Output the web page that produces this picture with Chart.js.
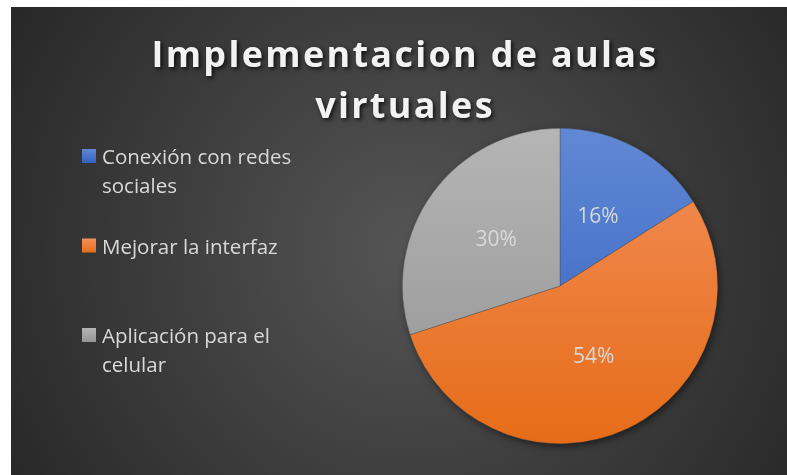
<!DOCTYPE html>
<html>
<head>
<meta charset="utf-8">
<script src="https://cdn.jsdelivr.net/npm/chart.js@4"></script>
<style>
  html, body { margin: 0; padding: 0; background: #ffffff; }
  #wrap { width: 787px; height: 475px; }
</style>
</head>
<body>
<div id="wrap"><canvas id="pieChart"></canvas></div>
<script>
// chart data
const titleLines = ['Implementacion de aulas', 'virtuales'];
const categories = ['Conexión con redes sociales', 'Mejorar la interfaz', 'Aplicación para el celular'];
const values = [16, 54, 30];
const topColors = ['#6188d4', '#f28f5a', '#b5b5b5'];
const bottomColors = ['#2f60bf', '#e66c18', '#939393'];

// gradient fill for each slice, lighter on top
function sliceFill(context) {
    const chart = context.chart;
    const area = chart.chartArea;
    if (!area) return topColors[context.dataIndex];
    const g = chart.ctx.createLinearGradient(0, area.top, 0, area.bottom);
    g.addColorStop(0, topColors[context.dataIndex]);
    g.addColorStop(1, bottomColors[context.dataIndex]);
    return g;
}

const backgroundPlugin = {
    id: 'bg',
    beforeDraw(chart) {
        const ctx = chart.ctx;
        ctx.save();
        ctx.fillStyle = '#ffffff';
        ctx.fillRect(0, 0, chart.width, chart.height);
        const g = ctx.createRadialGradient(410, 250, 0, 410, 250, 470);
        g.addColorStop(0, '#555555');
        g.addColorStop(1, '#272727');
        ctx.fillStyle = g;
        ctx.fillRect(11, 7, chart.width - 11, chart.height - 7);
        ctx.restore();
    },
    beforeDatasetsDraw(chart) {
        // soft shadow under the pie
        const arc = chart.getDatasetMeta(0).data[0];
        if (!arc) return;
        const ctx = chart.ctx;
        ctx.save();
        ctx.shadowColor = 'rgba(0,0,0,0.6)';
        ctx.shadowBlur = 9;
        ctx.shadowOffsetX = 2;
        ctx.shadowOffsetY = 3;
        ctx.fillStyle = '#333333';
        ctx.beginPath();
        ctx.arc(arc.x, arc.y, arc.outerRadius - 1, 0, Math.PI * 2);
        ctx.fill();
        ctx.restore();
    }
};

const labelPlugin = {
    id: 'labels',
    afterDatasetsDraw(chart) {
        const ctx = chart.ctx;
        const total = values.reduce((a, b) => a + b, 0);
        ctx.save();
        ctx.font = '21px "Open Sans"';
        ctx.fillStyle = '#d9d9d9';
        ctx.textAlign = 'center';
        ctx.textBaseline = 'middle';
        chart.getDatasetMeta(0).data.forEach((arc, i) => {
            const p = arc.tooltipPosition();
            ctx.fillText(Math.round(values[i] / total * 100) + '%', p.x, p.y);
        });
        ctx.restore();
    },
    afterDraw(chart) {
        const ctx = chart.ctx;
        ctx.save();
        // title
        ctx.font = 'bold 36px "Open Sans"';
        ctx.letterSpacing = '2.3px';
        ctx.textAlign = 'center';
        ctx.textBaseline = 'alphabetic';
        ctx.shadowColor = 'rgba(0,0,0,0.75)';
        ctx.shadowBlur = 4;
        ctx.shadowOffsetX = 2;
        ctx.shadowOffsetY = 2;
        ctx.fillStyle = '#f2f2f2';
        titleLines.forEach((t, i) => ctx.fillText(t, 405, 67 + i * 51));
        ctx.restore();

        // legend
        ctx.save();
        ctx.font = '20.5px "Open Sans"';
        ctx.textAlign = 'left';
        ctx.textBaseline = 'alphabetic';
        categories.forEach((name, i) => {
            const words = name.split(' ');
            const lines = [];
            let cur = '';
            words.forEach(w => {
                const test = cur ? cur + ' ' + w : w;
                if (ctx.measureText(test).width > 215 && cur) {
                    lines.push(cur);
                    cur = w;
                } else {
                    cur = test;
                }
            });
            lines.push(cur);
            const base = 164 + i * 89.5;
            const g = ctx.createLinearGradient(0, base - 15, 0, base);
            g.addColorStop(0, topColors[i]);
            g.addColorStop(1, bottomColors[i]);
            ctx.fillStyle = g;
            ctx.fillRect(82, base - 15, 14, 14);
            ctx.fillStyle = '#d9d9d9';
            lines.forEach((l, j) => ctx.fillText(l, 102, base + j * 29));
        });
        ctx.restore();
    }
};

new Chart(document.getElementById('pieChart'), {
    type: 'pie',
    data: {
        labels: categories,
        datasets: [{
            data: values,
            backgroundColor: sliceFill,
            borderColor: 'rgba(70,70,70,0.6)',
            borderWidth: 0.6
        }]
    },
    options: {
        responsive: true,
        maintainAspectRatio: false,
        animation: false,
        layout: { padding: { left: 402, right: 69, top: 128, bottom: 31 } },
        plugins: {
            legend: { display: false },
            title: { display: false },
            tooltip: { enabled: false }
        }
    },
    plugins: [backgroundPlugin, labelPlugin]
});
</script>
</body>
</html>
